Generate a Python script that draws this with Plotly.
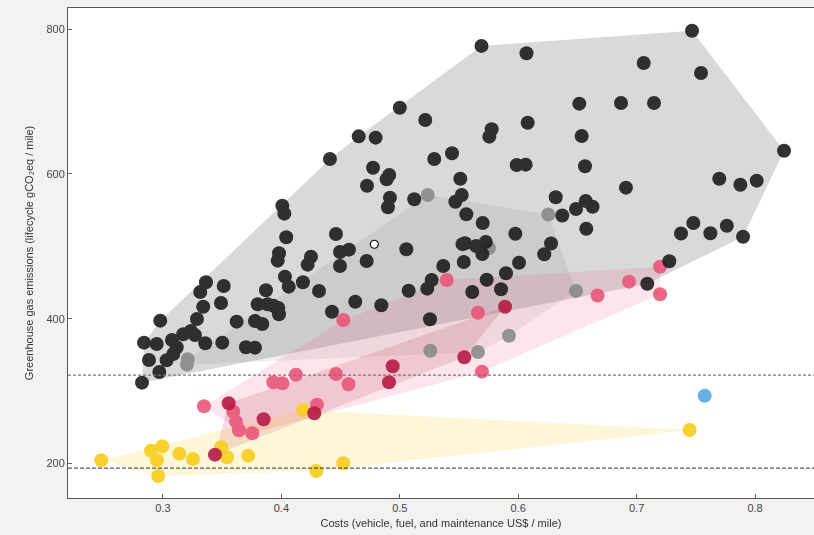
import plotly.graph_objects as go

# ---- data (cost US$/mile, emissions gCO2eq/mile) ----
black_x = [0.569, 0.607, 0.500, 0.5215, 0.4653, 0.4796, 0.441, 0.6516, 0.608, 0.5776,
           0.5756, 0.6536, 0.5441, 0.5291, 0.5987, 0.6063, 0.6564, 0.4774, 0.4911, 0.4889,
           0.4723, 0.5511, 0.5523, 0.5469, 0.4917, 0.490, 0.5122, 0.5562, 0.570, 0.6317,
           0.6372, 0.6488, 0.657, 0.6628, 0.7468, 0.706, 0.7544, 0.6868, 0.7147, 0.8245,
           0.691, 0.7698, 0.7876, 0.8014, 0.6575, 0.6277, 0.622, 0.7479, 0.7375, 0.7623,
           0.7762, 0.7899, 0.7276, 0.709,
           0.4008, 0.4025, 0.4041, 0.4461, 0.4495, 0.4571, 0.4495, 0.472, 0.398, 0.3969,
           0.425, 0.4222, 0.403, 0.4062, 0.4182, 0.4318, 0.4624, 0.4427, 0.387, 0.380,
           0.3884, 0.3932, 0.3974, 0.398, 0.3839, 0.3777, 0.3622, 0.3701, 0.3777, 0.3501,
           0.3357, 0.349, 0.334, 0.3513, 0.3363, 0.3315, 0.3287, 0.2977, 0.3236, 0.327,
           0.3171, 0.3076, 0.3116, 0.3087, 0.3031, 0.2947, 0.284, 0.2882, 0.2969, 0.2823,
           0.5551, 0.553, 0.5644, 0.5726, 0.5697, 0.554, 0.5367, 0.5976, 0.6007, 0.5055,
           0.5269, 0.5232, 0.5075, 0.5734, 0.5897, 0.5855, 0.5612, 0.4844, 0.5255]
black_y = [777, 766.8, 691.6, 674.6, 652, 650.2, 620.7, 697.2, 670.9, 661.8,
           651.6, 652.5, 628.6, 620.7, 612.5, 612.9, 610.7, 608.7, 598.6, 592.7,
           583.8, 593.5, 571, 561.7, 567.3, 554, 565, 544.3, 532.3, 567.8,
           542.7, 551.6, 562.7, 554.7, 798, 753.4, 739.6, 698.1, 698.1, 632.2,
           581.1, 593.5, 585.2, 590.8, 524.4, 504, 489, 532.3, 517.8, 518.1,
           528.4, 513.2, 479.4, 448.4,
           556.2, 545.2, 512.5, 517.1, 492.2, 495.4, 472.9, 479.8, 490.4, 480.2,
           485.7, 474.7, 458.1, 444.3, 450.3, 438.3, 423.5, 409.7, 439.3, 419.9,
           419.9, 418, 414.8, 406.1, 392.7, 396.8, 395.9, 360.5, 360, 366.9,
           366, 421.7, 416.6, 445.2, 450.3, 436.9, 399.6, 397.3, 383, 377.5,
           378.5, 370.6, 360.5, 351.3, 342.5, 365.1, 366.9, 342.9, 326.4, 311.6,
           504.2, 503, 500.5, 506, 489.4, 478.4, 472.9, 517.5, 477.4, 495.9,
           453.5, 441.5, 438.7, 453.9, 462.8, 440.7, 436.9, 418.6, 399.2]

gray_x = [0.5236, 0.6254, 0.3209, 0.3203, 0.5753, 0.6488, 0.5922, 0.5258, 0.566]
gray_y = [571, 544, 343.9, 336.5, 497.8, 438.3, 376.5, 355.8, 354]

white_x = [0.4785]
white_y = [502.9]

blue_x = [0.7575]
blue_y = [293.6]

pink_x = [0.3346, 0.3594, 0.3617, 0.3642, 0.3754, 0.3932, 0.4008, 0.4123, 0.430, 0.4461,
          0.4567, 0.5694, 0.4523, 0.5396, 0.566, 0.667, 0.6936, 0.7198, 0.7198]
pink_y = [279, 271.5, 257.7, 245.8, 241.6, 312.1, 310.8, 322.6, 281.2, 323.6,
          309.5, 326.8, 398.2, 453.5, 408.3, 432.1, 451.2, 471.9, 433.8]

red_x = [0.3439, 0.3555, 0.385, 0.4278, 0.4909, 0.494, 0.5545, 0.5889]
red_y = [212.1, 283.1, 261, 269.3, 312.1, 334.3, 346.7, 416.6]

yellow_x = [0.2479, 0.2899, 0.2994, 0.2949, 0.296, 0.3138, 0.3253, 0.3492, 0.3541, 0.372,
            0.4295, 0.4523, 0.4185, 0.7448]
yellow_y = [204.3, 217.6, 223.7, 204.3, 182.6, 213.5, 206.1, 222.3, 208.5, 210.7,
            189.6, 200.2, 273.9, 246.2]

ref_lines = [322, 193.5]

x_ticks = [0.3, 0.4, 0.5, 0.6, 0.7, 0.8]
y_ticks = [200, 400, 600, 800]


def hull(xs, ys):
    # convex hull computed in screen-proportional space
    pts = sorted(set((x * 1184.0, y * 0.7235, x, y) for x, y in zip(xs, ys)))

    def cross(o, a, b):
        return (a[0] - o[0]) * (b[1] - o[1]) - (a[1] - o[1]) * (b[0] - o[0])

    lower, upper = [], []
    for p in pts:
        while len(lower) >= 2 and cross(lower[-2], lower[-1], p) <= 0:
            lower.pop()
        lower.append(p)
    for p in reversed(pts):
        while len(upper) >= 2 and cross(upper[-2], upper[-1], p) <= 0:
            upper.pop()
        upper.append(p)
    h = lower[:-1] + upper[:-1]
    hx = [p[2] for p in h] + [h[0][2]]
    hy = [p[3] for p in h] + [h[0][3]]
    return hx, hy


fig = go.Figure()

hulls = [
    (black_x, black_y, "rgba(0,0,0,0.15)"),
    (gray_x, gray_y, "rgba(100,100,100,0.10)"),
    (pink_x, pink_y, "rgba(232,86,122,0.15)"),
    (red_x, red_y, "rgba(184,30,70,0.15)"),
    (yellow_x, yellow_y, "rgba(248,204,30,0.17)"),
]
for xs, ys, fc in hulls:
    hx, hy = hull(xs, ys)
    fig.add_trace(go.Scatter(x=hx, y=hy, mode="lines", fill="toself", fillcolor=fc,
                             line=dict(width=0), hoverinfo="skip", showlegend=False))

groups = [
    (yellow_x, yellow_y, "#f9cf24", 0.95),
    (gray_x, gray_y, "#8a8a8a", 0.9),
    (pink_x, pink_y, "#e9557a", 0.9),
    (red_x, red_y, "#b71d48", 0.92),
    (black_x, black_y, "#1c1c1c", 0.9),
    (blue_x, blue_y, "#5eaee6", 0.95),
]
for xs, ys, col, op in groups:
    fig.add_trace(go.Scatter(x=xs, y=ys, mode="markers", opacity=op,
                             marker=dict(size=14, color=col, line=dict(width=0)),
                             showlegend=False))

fig.add_trace(go.Scatter(x=white_x, y=white_y, mode="markers",
                         marker=dict(size=8, color="white", line=dict(width=1.2, color="#111")),
                         showlegend=False))

fig.add_shape(type="line", xref="paper", x0=0, x1=1, yref="y", y0=ref_lines[0], y1=ref_lines[0],
              line=dict(color="#777777", width=1.2, dash="3px,2px"))
fig.add_shape(type="line", xref="paper", x0=0, x1=1, yref="y", y0=ref_lines[1], y1=ref_lines[1],
              line=dict(color="#333333", width=1, dash="4px,2px"))

fig.update_layout(
    width=814, height=535,
    margin=dict(l=68, r=0, t=8, b=37),
    paper_bgcolor="#f2f2f2",
    plot_bgcolor="white",
    font=dict(family="Liberation Sans, Arial, sans-serif", size=11, color="#444"),
    showlegend=False,
)
fig.update_xaxes(
    range=[0.2198, 0.8498], tickvals=x_ticks, ticktext=[f"{v:.1f}" for v in x_ticks],
    showgrid=False, zeroline=False, showline=True, linecolor="#555", linewidth=1,
    mirror=True, ticks="inside", ticklen=4, tickcolor="#666",
    title=dict(text="Costs (vehicle, fuel, and maintenance US$ / mile)", standoff=6,
               font=dict(size=11, color="#333")),
)
fig.update_yaxes(
    range=[152.2, 829.4], tickvals=y_ticks, ticktext=[str(v) for v in y_ticks],
    showgrid=False, zeroline=False, showline=True, linecolor="#555", linewidth=1,
    mirror=False, ticks="inside", ticklen=4, tickcolor="#666",
    title=dict(text="Greenhouse gas emissions (lifecycle gCO₂eq / mile)", standoff=10,
               font=dict(size=11, color="#333")),
)

fig.write_html(
    "out.html",
    config={"displayModeBar": False},
    post_script="document.body.style.margin='0';document.body.style.padding='0';"
                "document.body.style.background='#f2f2f2';"
                "document.documentElement.style.background='#f2f2f2';"
                "document.body.style.overflow='hidden';",
)
